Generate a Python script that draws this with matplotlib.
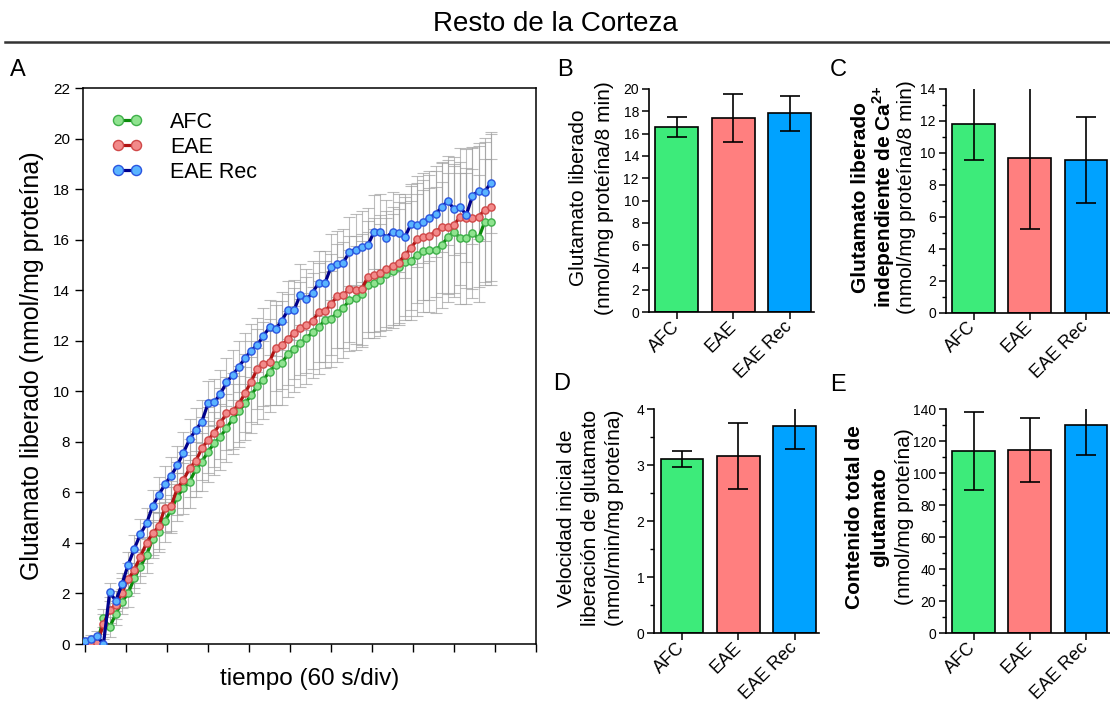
import numpy as np
import matplotlib.pyplot as plt
from matplotlib.ticker import MultipleLocator
from matplotlib.transforms import ScaledTranslation

plt.rcParams['font.family'] = ['Liberation Sans', 'DejaVu Sans']
plt.rcParams['mathtext.fontset'] = 'custom'
plt.rcParams['mathtext.rm'] = 'Liberation Sans'
plt.rcParams['mathtext.bf'] = 'Liberation Sans:bold'

# panel A: glutamate released over time (one reading every 9 s)
afc = [0.0, 0.0, 0.03, 1.04, 0.66, 1.19, 1.67, 2.00, 2.60, 3.06,
       3.52, 4.15, 4.44, 4.87, 5.30, 5.83, 6.16, 6.42, 6.91, 7.21,
       7.61, 7.94, 8.20, 8.54, 8.90, 9.20, 9.52, 9.84, 10.20, 10.45,
       10.78, 11.04, 11.11, 11.48, 11.66, 11.90, 12.10, 12.33, 12.53, 12.82,
       12.87, 13.10, 13.30, 13.60, 13.68, 13.85, 14.21, 14.27, 14.40, 14.64,
       14.77, 14.93, 15.13, 15.17, 15.39, 15.55, 15.59, 15.59, 15.79, 16.09,
       16.32, 16.05, 16.05, 16.25, 16.05, 16.71, 16.71]
eae = [0.0, 0.03, 0.05, 0.78, 1.35, 1.54, 2.03, 2.56, 2.93, 3.45,
       4.00, 4.38, 4.66, 5.40, 5.46, 6.16, 6.49, 6.95, 7.24, 7.74,
       8.07, 8.36, 8.73, 9.13, 9.22, 9.49, 9.92, 10.38, 10.88, 11.08,
       11.17, 11.73, 11.83, 12.06, 12.30, 12.49, 12.62, 12.79, 13.12, 13.16,
       13.45, 13.76, 13.80, 14.05, 14.01, 14.04, 14.54, 14.60, 14.67, 14.84,
       14.96, 15.09, 15.39, 15.66, 16.01, 16.12, 16.15, 16.32, 16.49, 16.51,
       16.58, 16.91, 16.85, 16.85, 16.91, 17.17, 17.28]
eae_rec = [0.13, 0.19, 0.30, 0.0, 2.05, 1.71, 2.36, 3.13, 3.76, 4.35,
           4.77, 5.46, 5.90, 6.33, 6.66, 7.07, 7.57, 8.10, 8.47, 8.80,
           9.52, 9.57, 9.89, 10.35, 10.64, 10.97, 11.30, 11.61, 11.83, 12.19,
           12.53, 12.48, 12.79, 13.22, 13.22, 13.82, 13.64, 13.90, 14.30, 14.27,
           14.92, 15.05, 15.08, 15.53, 15.60, 15.72, 15.79, 16.30, 16.32, 16.08,
           16.32, 16.25, 16.09, 16.62, 16.58, 16.71, 16.87, 17.02, 17.28, 17.54,
           17.20, 17.28, 16.98, 17.73, 17.94, 17.90, 18.25]
afc_err = [0.1, 0.1, 0.1, 0.35, 0.4, 0.45, 0.5, 0.55, 0.6, 0.65,
           0.7, 0.75, 0.8, 0.85, 0.9, 0.95, 1.0, 1.05, 1.1, 1.15,
           1.2, 1.25, 1.3, 1.35, 1.4, 1.4, 1.45, 1.5, 1.5, 1.55,
           1.6, 1.6, 1.65, 1.7, 1.7, 1.75, 1.8, 1.8, 1.85, 1.9,
           1.9, 1.95, 2.0, 2.0, 2.05, 2.1, 2.1, 2.15, 2.2, 2.2,
           2.25, 2.3, 2.3, 2.35, 2.4, 2.4, 2.45, 2.5, 2.5, 2.55,
           2.6, 2.6, 2.6, 2.55, 2.5, 2.5, 2.5]
eae_err = [0.1, 0.1, 0.15, 0.4, 0.5, 0.55, 0.6, 0.65, 0.7, 0.75,
           0.8, 0.85, 0.9, 0.95, 1.0, 1.05, 1.1, 1.15, 1.2, 1.25,
           1.3, 1.35, 1.4, 1.45, 1.5, 1.5, 1.55, 1.6, 1.6, 1.65,
           1.7, 1.7, 1.75, 1.8, 1.8, 1.85, 1.9, 1.9, 1.95, 2.0,
           2.0, 2.05, 2.1, 2.1, 2.15, 2.2, 2.2, 2.25, 2.3, 2.3,
           2.35, 2.4, 2.4, 2.45, 2.5, 2.5, 2.55, 2.6, 2.6, 2.65,
           2.7, 2.7, 2.75, 2.8, 2.8, 2.85, 2.9]
eae_rec_err = [0.15, 0.15, 0.2, 0.2, 0.35, 0.4, 0.45, 0.5, 0.55, 0.6,
               0.6, 0.65, 0.7, 0.7, 0.75, 0.75, 0.8, 0.8, 0.85, 0.85,
               0.9, 0.9, 0.95, 0.95, 1.0, 1.0, 1.0, 1.05, 1.05, 1.1,
               1.1, 1.1, 1.15, 1.15, 1.2, 1.2, 1.2, 1.25, 1.25, 1.3,
               1.3, 1.3, 1.35, 1.35, 1.4, 1.4, 1.45, 1.45, 1.5, 1.5,
               1.55, 1.55, 1.6, 1.6, 1.65, 1.65, 1.7, 1.7, 1.75, 1.75,
               1.8, 1.8, 1.85, 1.9, 1.9, 1.95, 2.0]
t = np.arange(len(afc)) * 9

# bar panels B-E
groups = ['AFC', 'EAE', 'EAE Rec']
b_vals = [16.62, 17.38, 17.82]
b_err = [0.9, 2.15, 1.57]
c_vals = [11.83, 9.70, 9.56]
c_err = [2.29, 4.48, 2.70]
d_vals = [3.11, 3.17, 3.70]
d_err = [0.14, 0.59, 0.41]
e_vals = [114.1, 114.6, 130.0]
e_err = [24.3, 19.9, 18.4]

bar_colors = ['#3deb7a', '#ff7f7f', '#00a2ff']

W, H = 1110, 708
fig = plt.figure(figsize=(W / 100, H / 100), dpi=100)


def rect(l, top, r, b):
    return [l / W, 1 - b / H, (r - l) / W, (b - top) / H]


fig.text(0.5, 1 - 24 / H, 'Resto de la Corteza', ha='center', va='center', fontsize=20)
fig.add_artist(plt.Line2D([5 / W, 1], [1 - 42 / H, 1 - 42 / H], color='#333333', lw=1.8))

# ---- panel A ----
ax = fig.add_axes(rect(83, 88, 536, 644))
series = [
    (afc, afc_err, 'AFC', '#0b8a0b', '#8fe38f', '#3fb04a'),
    (eae, eae_err, 'EAE', '#b01313', '#f28a8a', '#d04848'),
    (eae_rec, eae_rec_err, 'EAE Rec', '#00008b', '#5ab4ff', '#2a55e0'),
]
for y, e, lab, lc, fc, ec in series:
    ax.errorbar(t, y, yerr=e, fmt='none', ecolor='#a0a0a0', elinewidth=0.8,
                capsize=4.5, capthick=0.8, alpha=0.7, zorder=1)
handles = []
for y, e, lab, lc, fc, ec in series:
    h, = ax.plot(t, y, '-o', color=lc, lw=2.3, ms=5.2, mfc=fc, mec=ec, mew=1,
                 label=lab, zorder=3)
    handles.append(h)
ax.set_xlim(-3, 660)
ax.set_ylim(0, 22)
ax.set_xticks(np.arange(0, 661, 60))
ax.set_xticklabels([])
ax.set_yticks(np.arange(0, 23, 2))
ax.tick_params(axis='both', direction='out', length=6, width=1, labelsize=11)
for s in ax.spines.values():
    s.set_linewidth(1.1)
ax.set_xlabel('tiempo (60 s/div)', fontsize=17.5, labelpad=8)
ax.set_ylabel('Glutamato liberado (nmol/mg proteína)', fontsize=18, labelpad=6)
ax.legend(handles=handles, loc='upper left', bbox_to_anchor=(0.062, 0.957),
          frameon=False, fontsize=15.5, numpoints=2, handlelength=1.45,
          handletextpad=1.3, labelspacing=0.18, borderpad=0, borderaxespad=0,
          markerscale=1.4)
fig.text(18 / W, 1 - 70 / H, 'A', fontsize=17, ha='center', va='center')

shift = ScaledTranslation(6 / 100, -4 / 100, fig.dpi_scale_trans)


def bar_panel(r, vals, errs, ymax, major, minor):
    a = fig.add_axes(r)
    x = np.arange(len(groups))
    a.bar(x, vals, width=0.76, color=bar_colors, edgecolor='black', linewidth=1.2, zorder=2)
    a.errorbar(x, vals, yerr=errs, fmt='none', ecolor='black', elinewidth=1.2,
               capsize=7, capthick=1.2, zorder=3)
    a.set_xlim(-0.5, 2.43)
    a.set_ylim(0, ymax)
    a.yaxis.set_major_locator(MultipleLocator(major))
    if minor:
        a.yaxis.set_minor_locator(MultipleLocator(minor))
    a.set_xticks(x)
    a.set_xticklabels(groups, rotation=45, ha='right', va='center',
                      rotation_mode='anchor', fontsize=13)
    for lab in a.get_xticklabels():
        lab.set_transform(lab.get_transform() + shift)
    a.tick_params(axis='both', which='major', direction='out', length=5, width=1.1)
    a.tick_params(axis='y', labelsize=10, pad=2)
    a.tick_params(axis='y', which='minor', direction='out', length=3, width=1)
    a.spines['top'].set_visible(False)
    a.spines['right'].set_visible(False)
    a.spines['left'].set_linewidth(1.2)
    a.spines['bottom'].set_linewidth(1.2)
    return a


bar_panel(rect(648.7, 89, 814, 312.3), b_vals, b_err, 20, 2, None)
bar_panel(rect(945.5, 89, 1110, 312.7), c_vals, c_err, 14, 2, 1)
bar_panel(rect(654, 409.3, 818.7, 633.3), d_vals, d_err, 4, 1, 0.5)
bar_panel(rect(945.5, 409.3, 1110, 633.3), e_vals, e_err, 140, 20, 10)


# y labels of the bar panels
def vtext(xp, yp, s, bold=False):
    fig.text(xp / W, 1 - yp / H, s, rotation=90, ha='center', va='center',
             fontsize=15, fontweight='bold' if bold else 'normal')


vtext(578, 198, 'Glutamato liberado')
vtext(605, 198, '(nmol/mg proteína/8 min)')
vtext(860, 197, 'Glutamato liberado', bold=True)
vtext(884, 197, r'independiente de Ca$^{\mathbf{2{+}}}$', bold=True)
vtext(906, 197, '(nmol/mg proteína/8 min)')
vtext(567, 518, 'Velocidad inicial de')
vtext(591, 518, 'liberación de glutamato')
vtext(615, 518, '(nmol/min/mg proteína)')
vtext(855, 517, 'Contenido total de', bold=True)
vtext(880, 517, 'glutamato', bold=True)
vtext(905, 517, '(nmol/mg proteína)')

for lab, xp, yp in [('B', 565, 70), ('C', 838, 70), ('D', 562, 384), ('E', 838, 385)]:
    fig.text(xp / W, 1 - yp / H, lab, fontsize=17, ha='center', va='center')

fig.savefig('out.png', dpi=100)
